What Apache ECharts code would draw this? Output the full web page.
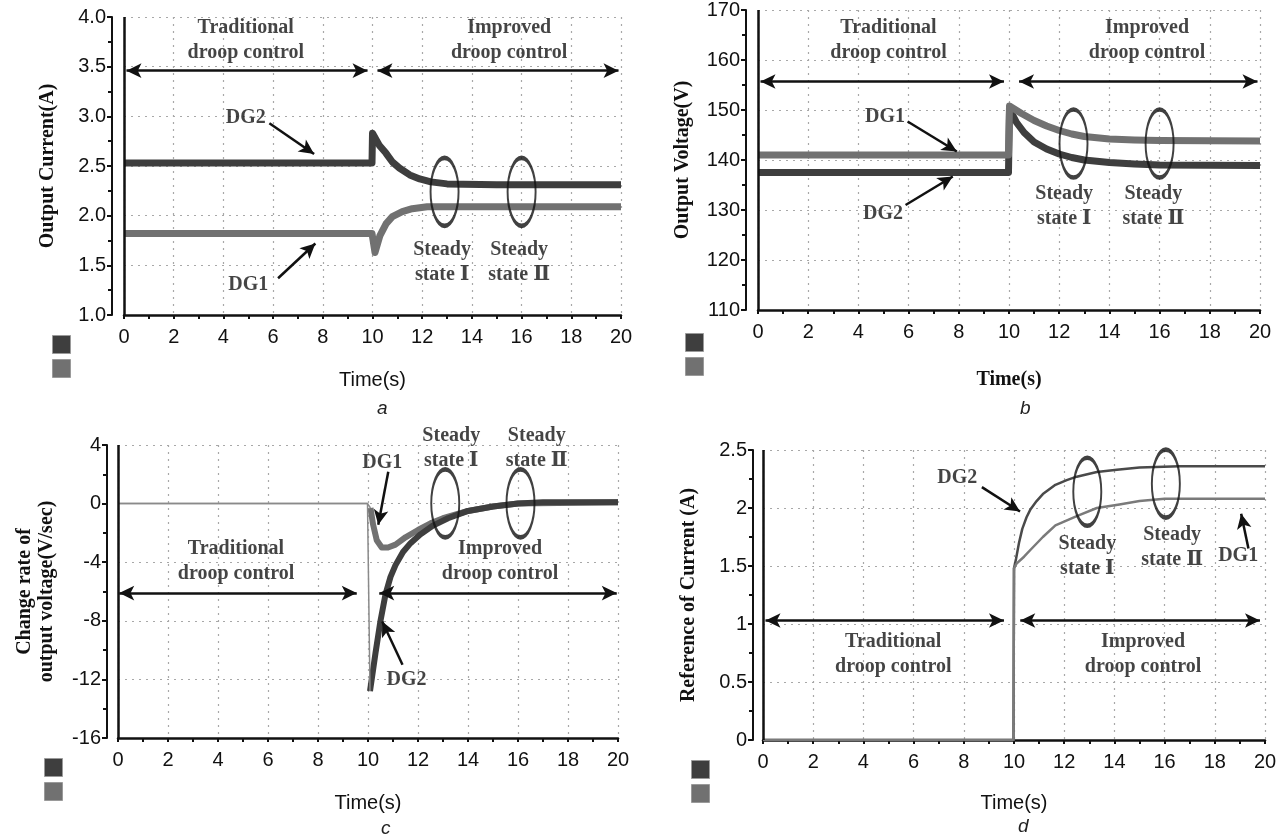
<!DOCTYPE html>
<html><head><meta charset="utf-8">
<script src="https://cdn.jsdelivr.net/npm/echarts@6/dist/echarts.min.js"></script>
<style>html,body{margin:0;padding:0;background:#fff}#c{width:1286px;height:840px}</style>
</head><body><div id="c"></div>
<script>
// ---------- DATA (time s, value) ----------
// Panel a: output current (A)
const aDG2 = [[0,2.53],[9.98,2.53],[10.0,2.83],[10.27,2.71],[10.54,2.63],[10.8,2.54],[11.08,2.48],[11.5,2.41],[11.9,2.37],[12.35,2.34],[13.0,2.32],[15,2.31],[20,2.31]];
const aDG1 = [[0,1.82],[9.98,1.82],[10.1,1.63],[10.3,1.80],[10.55,1.92],[10.8,1.99],[11.2,2.04],[11.6,2.07],[12.2,2.09],[15,2.09],[20,2.09]];
// Panel b: output voltage (V)
const bDG1 = [[0,141.0],[9.98,141.0],[10.02,150.8],[10.5,149.3],[11,147.9],[11.5,146.8],[12,145.9],[12.5,145.2],[13,144.7],[14,144.2],[15,144.0],[16,143.9],[20,143.8]];
const bDG2 = [[0,137.5],[9.98,137.5],[10.02,150.2],[10.3,147.5],[10.6,145.5],[11,143.6],[11.5,142.2],[12,141.2],[12.5,140.5],[13,140.0],[14,139.5],[15,139.2],[16,139.0],[20,138.9]];
// Panel c: change rate of output voltage (V/sec)
const cDG2pre = [[0,0],[9.98,0],[10.08,-12.8]];
const cDG2 = [[10.08,-12.8],[10.3,-10.2],[10.5,-8.0],[10.7,-6.2],[10.9,-5.0],[11.1,-4.2],[11.4,-3.3],[11.7,-2.7],[12.1,-2.1],[12.6,-1.5],[13.2,-1.0],[14,-0.5],[15,-0.2],[16,0],[17,0.1],[20,0.1]];
const cDG1pre = [[0,0],[9.98,0],[10.1,-0.3]];
const cDG1 = [[10.1,-0.3],[10.2,-1.4],[10.35,-2.5],[10.55,-3.0],[10.8,-3.0],[11.1,-2.8],[11.5,-2.3],[12,-1.8],[12.5,-1.35],[13,-1.0],[14,-0.5],[15,-0.2],[16,0],[20,0.1]];
// Panel d: reference of current (A)
const dDG2 = [[0,0],[9.98,0],[10.0,1.48],[10.08,1.56],[10.2,1.70],[10.33,1.82],[10.5,1.92],[10.66,1.99],[10.9,2.06],[11.15,2.12],[11.65,2.20],[12.1,2.24],[12.5,2.27],[13.3,2.31],[14.1,2.33],[15,2.35],[16.6,2.36],[20,2.36]];
const dDG1 = [[0,0],[9.98,0],[10.0,1.48],[10.1,1.52],[10.4,1.58],[10.66,1.64],[11.15,1.75],[11.65,1.85],[12.5,1.93],[13.3,2.0],[14.2,2.03],[15,2.06],[16,2.08],[20,2.08]];

// Axis ranges / labels
const xRange = [0, 20, 2];
const yRanges = [[1, 4, 0.5], [110, 170, 10], [-16, 4, 4], [0, 2.5, 0.5]];
const yNames = ['Output Current(A)', 'Output Voltage(V)', 'Change rate of\noutput voltage(V/sec)', 'Reference of Current (A)'];
const xName = 'Time(s)';
const panelLetters = ['a', 'b', 'c', 'd'];

// Annotations: [x, y, text]
const aTexts = [[4.9,3.765,'Traditional\ndroop control'],[15.5,3.765,'Improved\ndroop control'],[4.9,2.98,'DG2'],[5.0,1.30,'DG1'],[12.8,1.535,'Steady\nstate Ⅰ'],[15.9,1.535,'Steady\nstate Ⅱ']];
const bTexts = [[5.2,164.0,'Traditional\ndroop control'],[15.5,164.0,'Improved\ndroop control'],[5.06,148.7,'DG1'],[4.98,129.3,'DG2'],[12.2,130.7,'Steady\nstate Ⅰ'],[15.75,130.7,'Steady\nstate Ⅱ']];
const cTexts = [[13.33,3.77,'Steady\nstate Ⅰ'],[16.75,3.77,'Steady\nstate Ⅱ'],[10.57,2.75,'DG1'],[4.72,-3.95,'Traditional\ndroop control'],[15.28,-3.95,'Improved\ndroop control'],[11.54,-12.0,'DG2']];
const dTexts = [[7.74,2.26,'DG2'],[12.92,1.58,'Steady\nstate Ⅰ'],[16.3,1.66,'Steady\nstate Ⅱ'],[18.93,1.59,'DG1'],[5.19,0.74,'Traditional\ndroop control'],[15.14,0.74,'Improved\ndroop control']];
// Double arrows: [x1, x2, y]
const aSpans = [[0.1,9.8,3.46],[10.2,19.9,3.46]];
const bSpans = [[0.1,9.8,155.7],[10.4,19.9,155.7]];
const cSpans = [[0.05,9.55,-6.11],[10.45,19.95,-6.11]];
const dSpans = [[0.1,9.6,1.03],[10.25,19.8,1.03]];
// Pointer arrows: [x1, y1, x2, y2]
const aPointers = [[5.85,2.93,7.65,2.62],[6.2,1.37,7.7,1.72]];
const bPointers = [[5.96,147.7,7.92,141.7],[5.88,131.0,7.76,136.7]];
const cPointers = [[10.81,2.18,10.41,-1.45],[11.38,-11.0,10.57,-8.05]];
const dPointers = [[8.72,2.18,10.24,1.97],[19.34,1.65,19.05,1.95]];
// Ellipse centres: [x, y]
const aRings = [[12.9,2.24],[16.0,2.24]];
const bRings = [[12.57,143.3],[16.0,143.3]];
const cRings = [[13.09,0.02],[16.1,0.02]];
const dRings = [[12.92,2.14],[16.05,2.21]];

// ---------- LAYOUT ----------
const grids = [
  {left:124, top:17, width:497, height:298},
  {left:758, top:10, width:502, height:300},
  {left:118, top:445, width:500, height:293},
  {left:763, top:450, width:502, height:290}
];
const yOffsets = [12, 12, 11, 10];
const yNameGaps = [53, 52, 49, 53];
const xNameGaps = [55, 60, 55, 53];
const xNameBold = [false, true, false, false];
const letterPos = [[372,394],[1015,394],[376,814],[1013,812]];
const legendPos = [[52,335],[685,333],[44,758],[691,760]];

const DARK = '#3e3e3e', LIGHT = '#717171';
const serif = "'Liberation Serif', 'DejaVu Serif', serif", sans = 'Liberation Sans';

const xAxes = [], yAxes = [], series = [], titles = [], legends = [];
const textSets = [aTexts,bTexts,cTexts,dTexts];
const spanSets = [aSpans,bSpans,cSpans,dSpans];
const ptrSets = [aPointers,bPointers,cPointers,dPointers];
const ringSets = [aRings,bRings,cRings,dRings];

for (let i = 0; i < 4; i++) {
  xAxes.push({
    type:'value', gridIndex:i, min:xRange[0], max:xRange[1], interval:xRange[2],
    name:xName, nameLocation:'middle', nameGap:xNameGaps[i],
    nameTextStyle:{fontFamily: xNameBold[i] ? serif : sans, fontWeight: xNameBold[i] ? 'bold' : 'normal', fontSize:20, color:'#111'},
    axisLine:{show:true, onZero:false, lineStyle:{color:'#111', width:2.5}},
    axisTick:{show:true, length:4, lineStyle:{color:'#111', width:2}},
    minorTick:{show:true, splitNumber:2, length:4, lineStyle:{color:'#111', width:2}},
    axisLabel:{fontFamily:sans, fontSize:20, color:'#111', margin:12},
    splitLine:{show:true, lineStyle:{color:'#a8a8a8', type:[2,5], width:1.2}}
  });
  const yr = yRanges[i];
  yAxes.push({
    type:'value', gridIndex:i, min:yr[0], max:yr[1], interval:yr[2], offset:yOffsets[i],
    name:yNames[i], nameLocation:'middle', nameRotate:90, nameGap:yNameGaps[i],
    nameTextStyle:{fontFamily:serif, fontWeight:'bold', fontSize:20, color:'#111', lineHeight:22},
    axisLine:{show:true, onZero:false, lineStyle:{color:'#111', width:2}},
    axisTick:{show:true, length:5, lineStyle:{color:'#111', width:2}},
    minorTick:{show:true, splitNumber:2, length:4, lineStyle:{color:'#111', width:2}},
    axisLabel:{fontFamily:sans, fontSize:20, color:'#111', margin:6,
      formatter: i === 0 ? (v => v.toFixed(1)) : null},
    splitLine:{show:true, lineStyle:{color:'#a8a8a8', type:[2,5], width:1.2}}
  });
  titles.push({text:panelLetters[i], left:letterPos[i][0], top:letterPos[i][1],
    textStyle:{fontFamily:sans, fontStyle:'italic', fontWeight:'normal', fontSize:19, color:'#222'}});
  legends.push({orient:'vertical', left:legendPos[i][0], top:legendPos[i][1], itemWidth:18, itemHeight:18, itemGap:5,
    icon:'rect', data:['DG2','DG1'], formatter:() => '', selectedMode:false, padding:0,
    itemStyle:{borderWidth:1, borderColor:'#9a9a9a'}, textStyle:{fontSize:1}});
}

function lineSeries(i, name, data, color, width) {
  return {type:'line', name:name, xAxisIndex:i, yAxisIndex:i, data:data, showSymbol:false, symbol:'none',
    color:color, lineStyle:{color:color, width:width, join:'round'}, itemStyle:{color:color}, silent:true, z:3};
}

// a
series.push(lineSeries(0,'DG2',aDG2,DARK,7));
series.push(lineSeries(0,'DG1',aDG1,LIGHT,7));
// b
series.push(lineSeries(1,'DG2',bDG2,DARK,7));
series.push(lineSeries(1,'DG1',bDG1,LIGHT,7));
// c
series.push(lineSeries(2,'DG1',cDG1,LIGHT,6));
series.push(lineSeries(2,'DG2',cDG2,DARK,6));
series.push(lineSeries(2,'c-pre2',cDG2pre,'#8a8a8a',1.5));
series.push(lineSeries(2,'c-pre1',cDG1pre,'#8a8a8a',1.5));
// d
series.push(lineSeries(3,'DG2',dDG2,'#4a4a4a',2.5));
series.push(lineSeries(3,'DG1',dDG1,'#7a7a7a',2.5));

for (let i = 0; i < 4; i++) {
  const mlData = [];
  spanSets[i].forEach(s => mlData.push([{coord:[s[0],s[2]], symbol:'arrow'},{coord:[s[1],s[2]], symbol:'arrow'}]));
  ptrSets[i].forEach(p => mlData.push([{coord:[p[0],p[1]], symbol:'none'},{coord:[p[2],p[3]], symbol:'arrow'}]));
  series.push({
    type:'scatter', xAxisIndex:i, yAxisIndex:i, clip:false, silent:true, symbolSize:1,
    itemStyle:{color:'rgba(0,0,0,0)'}, z:10,
    label:{show:true, position:'inside', fontFamily:serif, fontWeight:'bold', fontSize:20, lineHeight:25, color:'#151515'},
    data: textSets[i].map(t => ({value:[t[0],t[1]], label:{formatter:t[2]}})),
    markLine:{silent:true, animation:false, symbol:['none','arrow'], symbolSize:[11,15], precision:4,
      label:{show:false}, lineStyle:{color:'#111', width:2.5, type:'solid'}, emphasis:{disabled:true},
      data: mlData}
  });
  // thick vertical line at t = 0
  series.push({
    type:'line', xAxisIndex:i, yAxisIndex:i, data:[], silent:true,
    markLine:{silent:true, animation:false, symbol:['none','none'], label:{show:false},
      lineStyle:{color:'#111', width:2.5, type:'solid'}, emphasis:{disabled:true},
      data:[{xAxis:0}]}
  });
  series.push({
    type:'scatter', xAxisIndex:i, yAxisIndex:i, clip:false, silent:true, symbol:'circle', symbolSize:[28,68], z:9,
    itemStyle:{color:'rgba(0,0,0,0)', borderColor:'#111', borderWidth:3},
    data: ringSets[i]
  });
}

const chart = echarts.init(document.getElementById('c'), null, {renderer:'canvas'});
chart.setOption({
  backgroundColor:'#fff', animation:false,
  title:titles, legend:legends, grid:grids, xAxis:xAxes, yAxis:yAxes, series:series
});
</script></body></html>
